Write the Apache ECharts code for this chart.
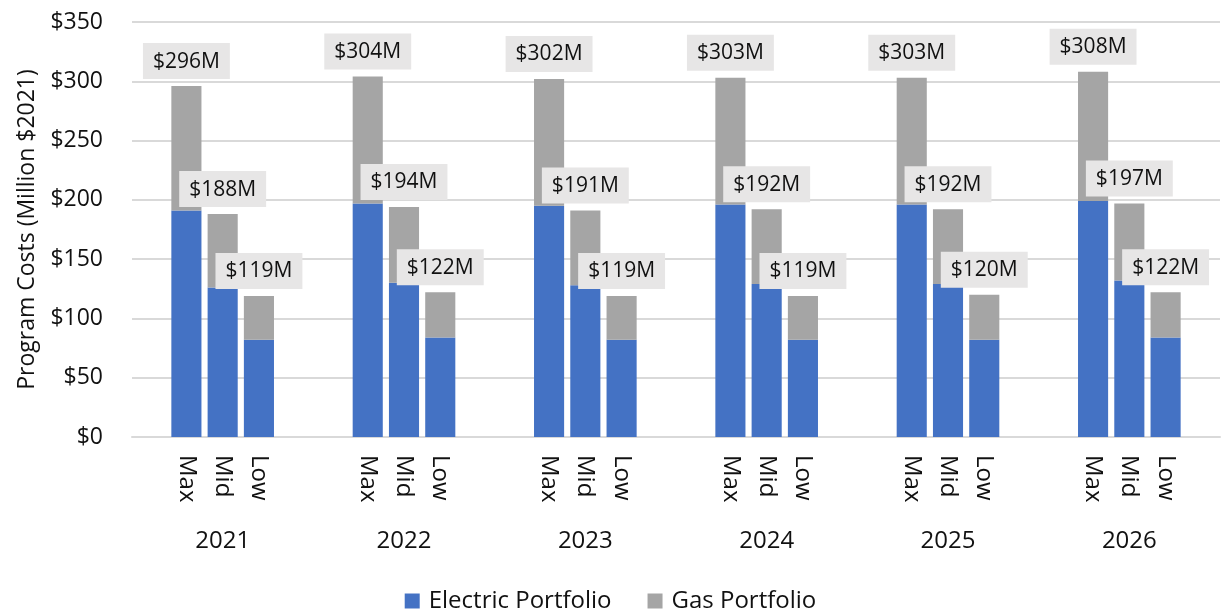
<!DOCTYPE html>
<html>
<head>
<meta charset="utf-8">
<script src="https://cdn.jsdelivr.net/npm/echarts@6/dist/echarts.min.js"></script>
<style>
  html, body { margin: 0; padding: 0; background: #fff; }
  #chart { width: 1221px; height: 611px; }
</style>
</head>
<body>
<div id="chart"></div>
<script>
// 数据
const years = ['2021', '2022', '2023', '2024', '2025', '2026'];
const scenarios = ['Max', 'Mid', 'Low'];
const electric = [191, 126, 82, 197, 130, 84, 195, 128, 82, 196, 129, 82, 196, 129, 82, 199, 132, 84];
const gas = [105, 62, 37, 107, 64, 38, 107, 63, 37, 107, 63, 37, 107, 63, 38, 109, 65, 38];
const totals = ['$296M', '$188M', '$119M', '$304M', '$194M', '$122M', '$302M', '$191M', '$119M',
  '$303M', '$192M', '$119M', '$303M', '$192M', '$120M', '$308M', '$197M', '$122M'];
const yTicks = { min: 0, max: 350, interval: 50 };

// 每组: 空位, Max, Mid, Low, 空位
const slots = [];
const slotIndex = [];
years.forEach((y, gi) => {
  slots.push('');
  scenarios.forEach((s, si) => {
    slotIndex.push(slots.length);
    slots.push(s);
  });
  slots.push('');
});
function spread(arr) {
  const out = slots.map(() => null);
  arr.forEach((v, i) => { out[slotIndex[i]] = v; });
  return out;
}
const labelBySlot = {};
totals.forEach((t, i) => { labelBySlot[slotIndex[i]] = t; });

const font = '"Open Sans", "Noto Sans", sans-serif';
const chart = echarts.init(document.getElementById('chart'));
const option = {
  animation: false,
  textStyle: { fontFamily: font, color: '#111' },
  grid: { left: 132, right: 1, top: 22, bottom: 174 },
  legend: {
    top: 584,
    left: 'center',
    itemWidth: 15,
    itemHeight: 15,
    itemGap: 36,
    icon: 'rect',
    textStyle: { fontSize: 24, color: '#111', fontFamily: font, padding: [0, 0, 0, 4] },
    data: ['Electric Portfolio', 'Gas Portfolio']
  },
  xAxis: [
    {
      type: 'category',
      data: slots,
      axisLine: { lineStyle: { color: '#D9D9D9', width: 2 } },
      axisTick: { show: false },
      axisLabel: { interval: 0, rotate: -90, margin: 18, fontSize: 24, color: '#111' }
    },
    {
      type: 'category',
      data: years,
      position: 'bottom',
      axisLine: { show: false },
      axisTick: { show: false },
      axisLabel: { margin: 92, fontSize: 24, color: '#111' }
    }
  ],
  yAxis: {
    type: 'value',
    min: yTicks.min,
    max: yTicks.max,
    interval: yTicks.interval,
    name: 'Program Costs (Million $2021)',
    nameLocation: 'middle',
    nameGap: 93,
    nameTextStyle: { fontSize: 23, color: '#111' },
    axisLine: { show: false },
    axisTick: { show: false },
    axisLabel: { formatter: '${value}', fontSize: 23, margin: 29, color: '#111' },
    splitLine: { lineStyle: { color: '#D9D9D9', width: 2 } }
  },
  series: [
    {
      name: 'Electric Portfolio',
      type: 'bar',
      stack: 'total',
      data: spread(electric),
      barCategoryGap: '17%',
      itemStyle: { color: '#4472C4' }
    },
    {
      name: 'Gas Portfolio',
      type: 'bar',
      stack: 'total',
      data: spread(gas),
      barCategoryGap: '17%',
      itemStyle: { color: '#A5A5A5' },
      label: {
        show: true,
        position: 'top',
        distance: 7,
        fontSize: 21,
        color: '#111',
        backgroundColor: '#E7E6E6',
        padding: [8, 10, 7, 10],
        formatter: p => labelBySlot[p.dataIndex] || ''
      }
    }
  ]
};
chart.setOption(option);
</script>
</body>
</html>
